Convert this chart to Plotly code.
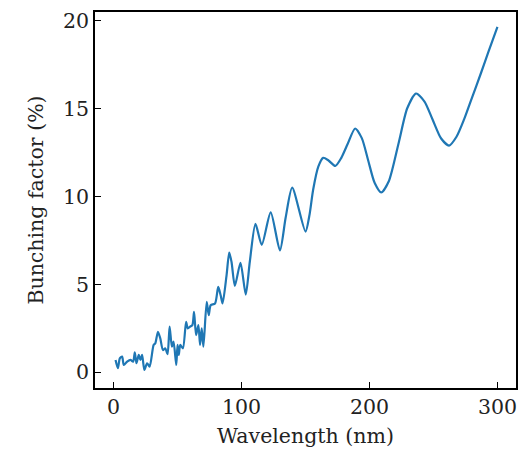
import plotly.graph_objects as go

# Wavelength (nm) and bunching factor (%)
wavelength = [
    1.55, 3.4, 4.9, 6.7, 8.0, 10.6, 13.2, 15.3, 16.6, 17.9, 19.7, 21.0, 22.3, 24.1,
    26.2, 28.2, 31.3, 32.6, 34.7, 36.5, 38.6, 40.4, 42.2, 43.8, 45.6, 46.9, 49.0,
    50.0, 51.0, 52.1, 54.2, 56.7, 58.0, 59.8, 61.6, 62.9, 64.5, 66.3, 67.6, 68.9,
    70.2, 72.8, 74.4, 75.9, 79.3, 81.8, 83.7, 85.2, 88.3, 90.4, 92.2, 94.8, 99.2,
    103.3, 106.5, 110.9, 115.8, 122.8, 130.0, 134.5, 139.6, 150.0, 153.0, 156.0,
    160.0, 163.8, 168.0, 173.3, 178.0, 183.0, 188.8, 194.0, 199.0, 204.0, 209.2,
    215.0, 222.8, 229.5, 236.4, 243.0, 249.3, 256.0, 262.2, 268.0, 274.0, 280.0,
    287.0, 293.0, 300.0,
]
bunching = [
    0.70, 0.23, 0.79, 0.89, 0.41, 0.60, 0.70, 0.60, 1.13, 0.51, 0.98, 0.70, 0.98, 0.13,
    0.51, 0.32, 1.55, 1.64, 2.30, 1.93, 1.26, 1.36, 1.02, 2.59, 1.45, 1.74, 0.41,
    1.55, 0.98, 1.55, 1.36, 2.87, 2.49, 2.59, 2.68, 3.43, 2.11, 2.68, 1.55, 2.49,
    1.45, 4.00, 3.25, 3.81, 3.91, 4.85, 4.38, 3.91, 5.51, 6.80, 6.27, 4.91, 6.23,
    4.42, 6.30, 8.44, 7.25, 9.10, 6.93, 8.80, 10.50, 8.00, 8.90, 10.40,
    11.70, 12.20, 12.05, 11.74, 12.20, 13.00, 13.87, 13.32, 12.05, 10.78, 10.23,
    10.85, 13.05, 15.02, 15.86, 15.40, 14.38, 13.30, 12.90, 13.40, 14.40, 15.60,
    17.00, 18.25, 19.65,
]

x_ticks = [0, 100, 200, 300]
y_ticks = [0, 5, 10, 15, 20]

font_family = "DejaVu Serif"
fs = 20.5

fig = go.Figure()
fig.add_trace(go.Scatter(
    x=wavelength, y=bunching, mode="lines",
    line=dict(color="#1f77b4", width=2.2, shape="spline", smoothing=0.7),
    showlegend=False,
))

axis_common = dict(
    showgrid=False, zeroline=False, showline=True, mirror=True,
    linecolor="black", linewidth=1.6,
    ticks="inside", ticklen=6, tickwidth=1.4, tickcolor="black",
    tickfont=dict(family=font_family, size=fs, color="#222"),
)

fig.update_layout(
    width=523, height=449,
    margin=dict(l=95, r=5, t=12, b=59),
    paper_bgcolor="white", plot_bgcolor="white",
    font=dict(family=font_family, size=fs, color="#222"),
    xaxis=dict(range=[-14.5, 314.5], tickvals=x_ticks,
               title=dict(text="Wavelength (nm)", font=dict(family=font_family, size=fs), standoff=10),
               **axis_common),
    yaxis=dict(range=[-0.9, 20.5], tickvals=y_ticks,
               title=dict(text="Bunching factor (%)", font=dict(family=font_family, size=fs), standoff=14),
               **axis_common),
)

fig.write_html("out.html")
